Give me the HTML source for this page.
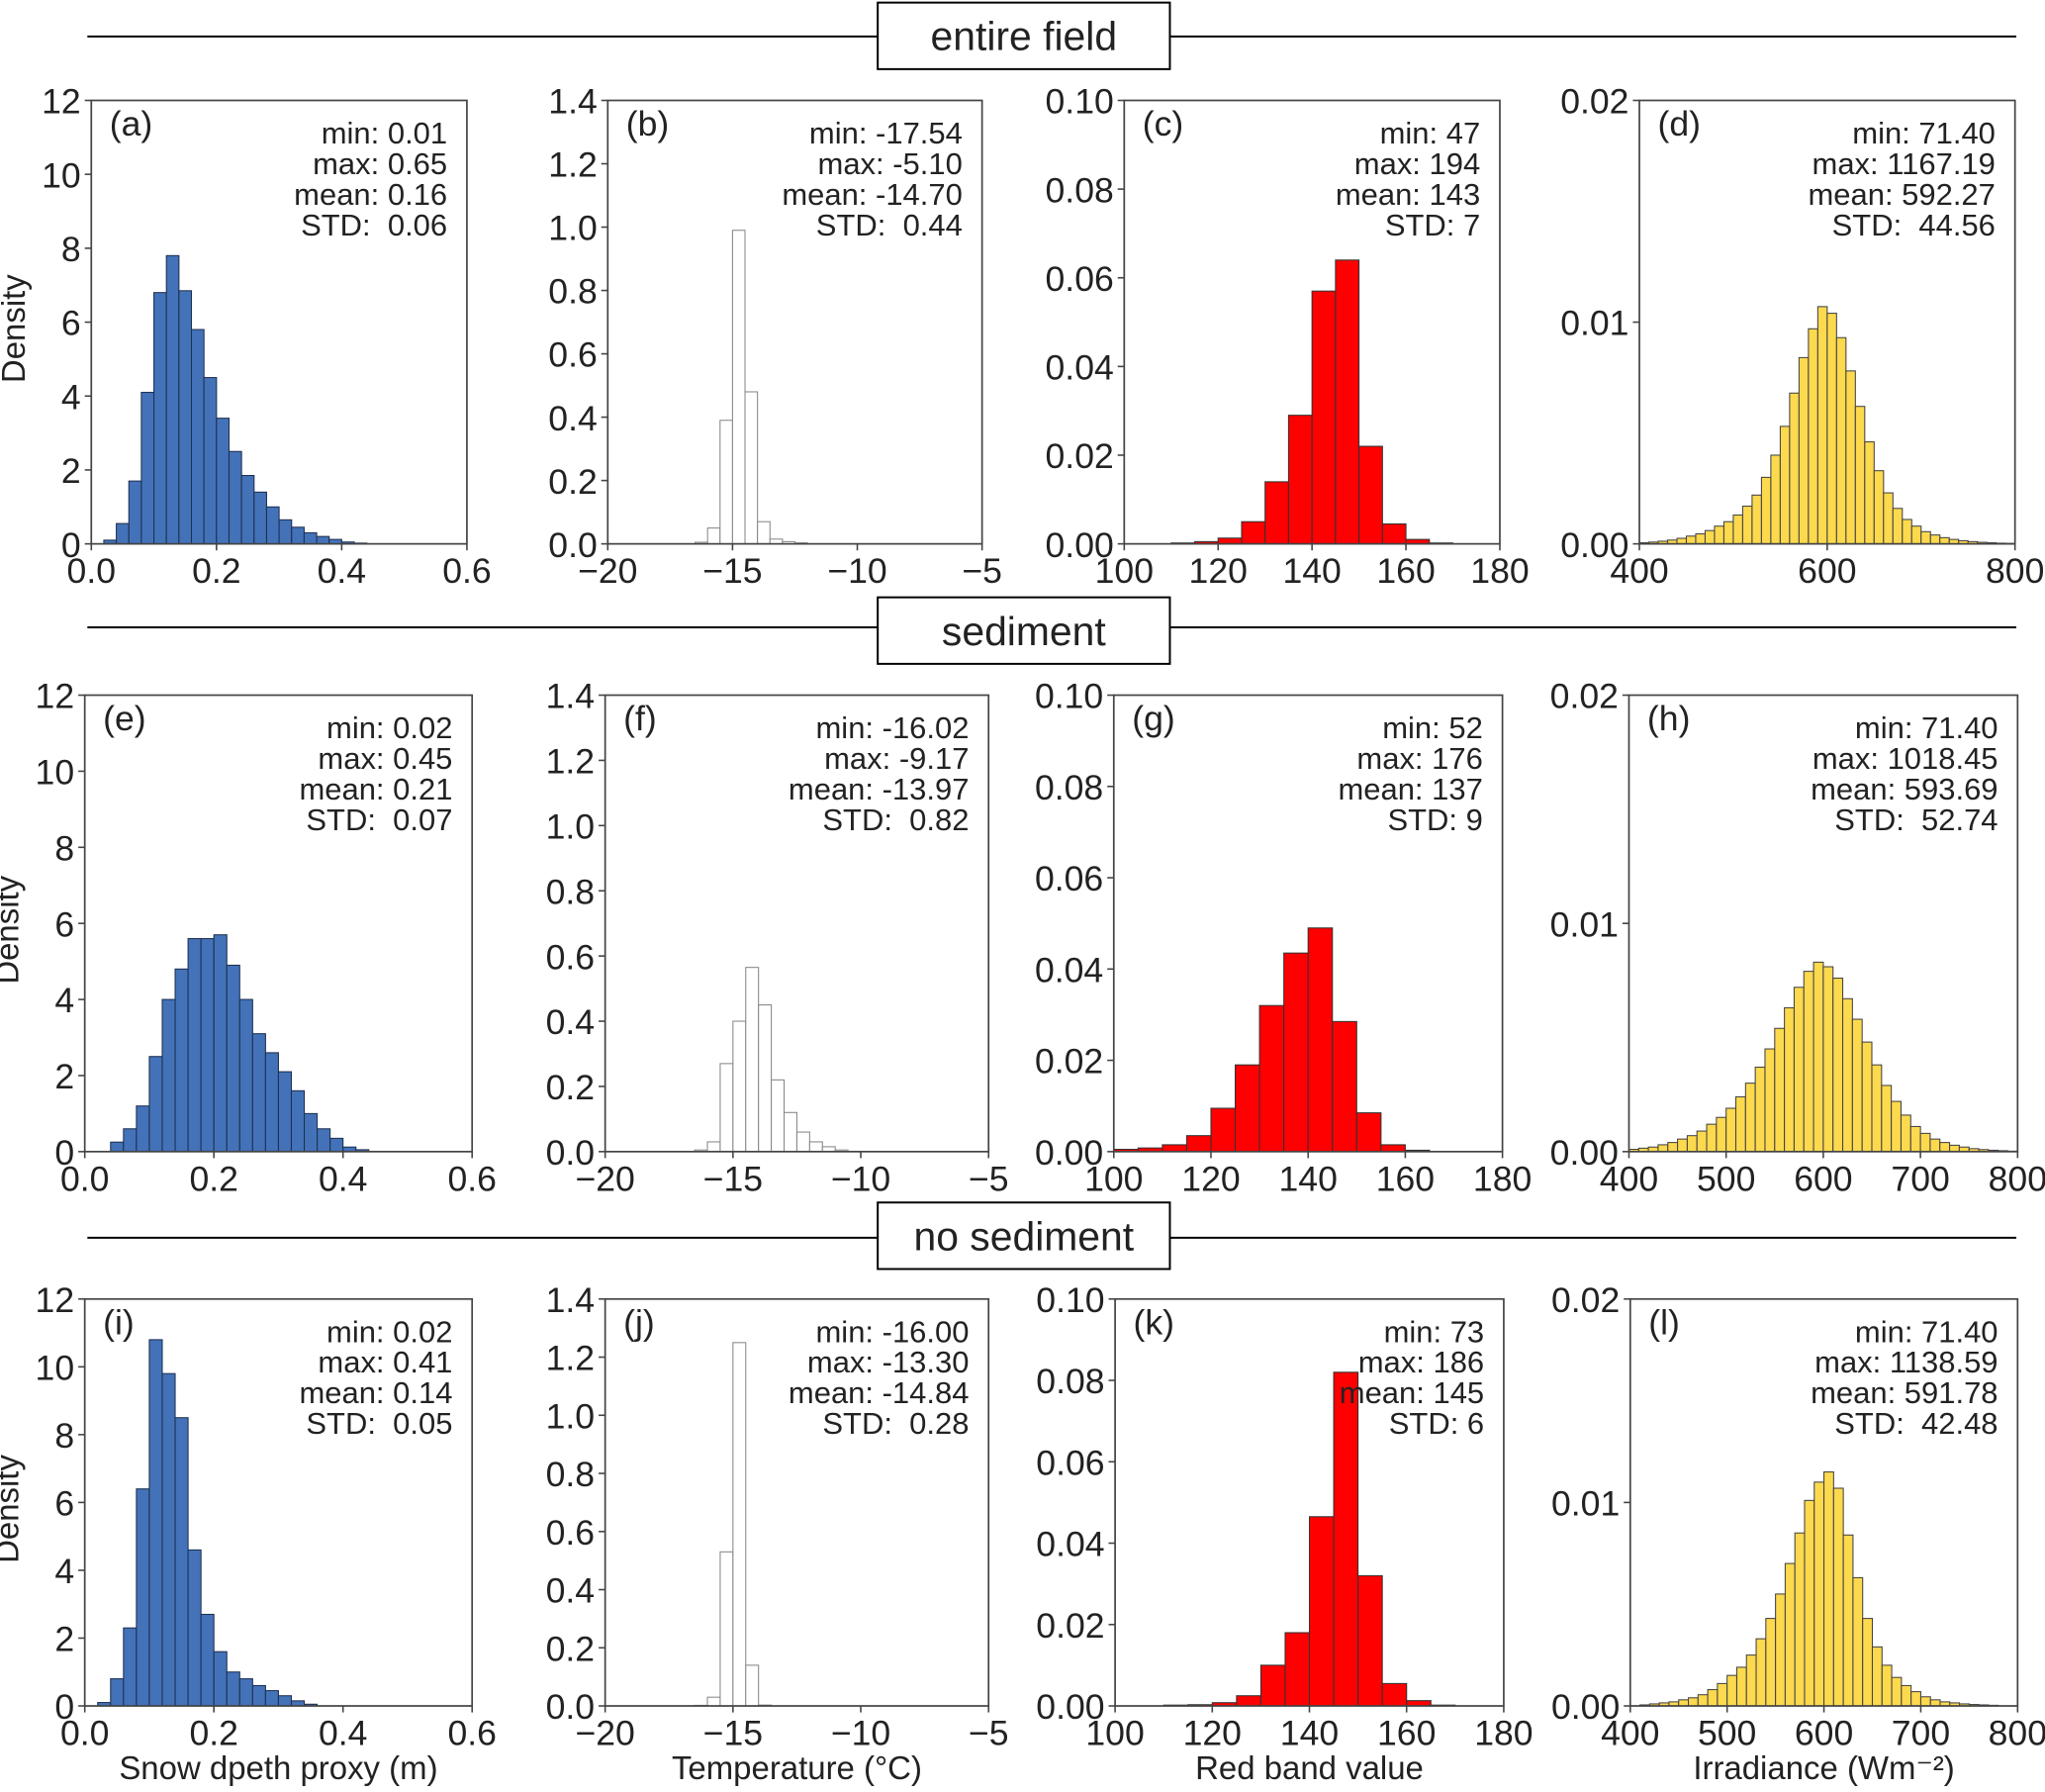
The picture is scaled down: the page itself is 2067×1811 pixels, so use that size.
<!DOCTYPE html>
<html><head><meta charset="utf-8"><style>
html,body{margin:0;padding:0;background:#fff}
svg{display:block}
text{font-family:"Liberation Sans Narrow","Liberation Sans",sans-serif;fill:#222;white-space:pre}
</style></head><body>
<svg id="fig" width="2067" height="1811" viewBox="0 0 1568 1374" preserveAspectRatio="none" xmlns="http://www.w3.org/2000/svg"></svg>
<script>
// ---- data arrays (density per bin) ----
const aVals=[0.1,0.55,1.7,4.1,6.8,7.8,6.85,5.8,4.5,3.4,2.5,1.85,1.4,1.0,0.65,0.45,0.3,0.2,0.12,0.05,0.02];
const bVals=[0.005,0.05,0.39,0.99,0.48,0.07,0.015,0.007,0.003];
const cVals=[0.0002,0.0005,0.0013,0.005,0.014,0.029,0.057,0.064,0.022,0.0045,0.001,0.0002];
const dVals=[0.05,0.08,0.12,0.17,0.25,0.35,0.45,0.6,0.8,1.0,1.3,1.7,2.2,3.0,4.0,5.3,6.8,8.4,9.7,10.7,10.4,9.3,7.8,6.2,4.6,3.3,2.3,1.6,1.1,0.8,0.55,0.4,0.28,0.2,0.14,0.1,0.07,0.05,0.03,0.02];
const eVals=[0.25,0.6,1.2,2.5,4.0,4.8,5.6,5.6,5.7,4.9,4.0,3.1,2.6,2.1,1.6,1.0,0.6,0.35,0.12,0.05];
const fVals=[0.005,0.03,0.27,0.4,0.565,0.45,0.22,0.12,0.06,0.03,0.015,0.005];
const gVals=[0.0005,0.0008,0.0015,0.0035,0.0095,0.019,0.032,0.0435,0.049,0.0285,0.0085,0.0015,0.0003];
const hVals=[0.1,0.15,0.2,0.3,0.4,0.55,0.7,0.9,1.2,1.5,1.9,2.4,3.0,3.7,4.5,5.4,6.3,7.2,7.9,8.3,8.1,7.6,6.7,5.8,4.8,3.8,2.9,2.2,1.6,1.1,0.8,0.55,0.4,0.28,0.2,0.13,0.09,0.06,0.04,0.02];
const iVals=[0.1,0.8,2.3,6.4,10.8,9.8,8.5,4.6,2.7,1.6,1.0,0.8,0.6,0.45,0.3,0.15,0.05];
const jVals=[0.002,0.03,0.53,1.25,0.14,0.003];
const kVals=[0.0002,0.0003,0.0008,0.0025,0.01,0.018,0.0465,0.082,0.032,0.0055,0.0013,0.0002];
const lVals=[0.05,0.1,0.15,0.2,0.3,0.4,0.55,0.8,1.1,1.5,1.9,2.5,3.3,4.3,5.5,7.0,8.5,10.1,11.0,11.5,10.7,8.4,6.3,4.3,2.9,2.0,1.4,1.0,0.7,0.45,0.3,0.2,0.15,0.1,0.07,0.05,0.03];
const snowTicks=[0,0.2,0.4,0.6], snowYTicks=[0,2,4,6,8,10,12];
const tempTicks=[-20,-15,-10,-5], tempYTicks=[0,0.2,0.4,0.6,0.8,1.0,1.2,1.4];
const redTicks=[100,120,140,160,180], redYTicks=[0,0.02,0.04,0.06,0.08,0.10];
const irrTicks1=[400,600,800], irrTicks=[400,500,600,700,800], irrYTicks=[0,0.01,0.02];
const headers=["entire field","sediment","no sediment"];
const xTitles=["Snow dpeth proxy (m)","Temperature (°C)","Red band value","Irradiance (Wm⁻²)"];

const NS="http://www.w3.org/2000/svg";
const svg=document.getElementById('fig');
function el(t,a,p){const e=document.createElementNS(NS,t);for(const k in a)e.setAttribute(k,a[k]);(p||svg).appendChild(e);return e;}

const rows=[{top:77,bot:417,xs:[[70,358],[466,753],[862,1150],[1257,1545]],hy:28,hb:[2,53]},
            {top:533,bot:883,xs:[[65,362],[464,758],[854,1152],[1249,1547]],hy:481,hb:[458,509]},
            {top:996,bot:1308,xs:[[65,362],[464,758],[855,1153],[1250,1547]],hy:949,hb:[922,973]}];

const panels=[
 {id:'a',vals:aVals,start:0.02,w:0.02,xr:[0,0.6],yr:[0,12],xt:snowTicks,yt:snowYTicks,fx:1,fy:0,col:'#4372b8',ec:'#1e3050',st:['min: 0.01','max: 0.65','mean: 0.16','STD:  0.06']},
 {id:'b',vals:bVals,start:-16.5,w:0.5,xr:[-20,-5],yr:[0,1.4],xt:tempTicks,yt:tempYTicks,fx:0,fy:1,col:'#ffffff',ec:'#888',st:['min: -17.54','max: -5.10','mean: -14.70','STD:  0.44']},
 {id:'c',vals:cVals,start:110,w:5,xr:[100,180],yr:[0,0.1],xt:redTicks,yt:redYTicks,fx:0,fy:2,col:'#ff0000',ec:'#333',st:['min: 47','max: 194','mean: 143','STD: 7']},
 {id:'d',vals:dVals,start:400,w:10,xr:[400,800],yr:[0,0.02],xt:irrTicks1,yt:irrYTicks,fx:0,fy:2,col:'#fdd94e',ec:'#444',sc:0.001,st:['min: 71.40','max: 1167.19','mean: 592.27','STD:  44.56']},
 {id:'e',vals:eVals,start:0.04,w:0.02,xr:[0,0.6],yr:[0,12],xt:snowTicks,yt:snowYTicks,fx:1,fy:0,col:'#4372b8',ec:'#1e3050',st:['min: 0.02','max: 0.45','mean: 0.21','STD:  0.07']},
 {id:'f',vals:fVals,start:-16.5,w:0.5,xr:[-20,-5],yr:[0,1.4],xt:tempTicks,yt:tempYTicks,fx:0,fy:1,col:'#ffffff',ec:'#888',st:['min: -16.02','max: -9.17','mean: -13.97','STD:  0.82']},
 {id:'g',vals:gVals,start:100,w:5,xr:[100,180],yr:[0,0.1],xt:redTicks,yt:redYTicks,fx:0,fy:2,col:'#ff0000',ec:'#333',st:['min: 52','max: 176','mean: 137','STD: 9']},
 {id:'h',vals:hVals,start:400,w:10,xr:[400,800],yr:[0,0.02],xt:irrTicks,yt:irrYTicks,fx:0,fy:2,col:'#fdd94e',ec:'#444',sc:0.001,st:['min: 71.40','max: 1018.45','mean: 593.69','STD:  52.74']},
 {id:'i',vals:iVals,start:0.02,w:0.02,xr:[0,0.6],yr:[0,12],xt:snowTicks,yt:snowYTicks,fx:1,fy:0,col:'#4372b8',ec:'#1e3050',st:['min: 0.02','max: 0.41','mean: 0.14','STD:  0.05']},
 {id:'j',vals:jVals,start:-16.5,w:0.5,xr:[-20,-5],yr:[0,1.4],xt:tempTicks,yt:tempYTicks,fx:0,fy:1,col:'#ffffff',ec:'#888',st:['min: -16.00','max: -13.30','mean: -14.84','STD:  0.28']},
 {id:'k',vals:kVals,start:110,w:5,xr:[100,180],yr:[0,0.1],xt:redTicks,yt:redYTicks,fx:0,fy:2,col:'#ff0000',ec:'#333',st:['min: 73','max: 186','mean: 145','STD: 6']},
 {id:'l',vals:lVals,start:410,w:10,xr:[400,800],yr:[0,0.02],xt:irrTicks,yt:irrYTicks,fx:0,fy:2,col:'#fdd94e',ec:'#444',sc:0.001,st:['min: 71.40','max: 1138.59','mean: 591.78','STD:  42.48']}
];

function fmt(v,d){const s=v.toFixed(d);return v<0?'−'+s.slice(1):s;}

rows.forEach((r,ri)=>{
  const g=el('g',{});
  
  
  el('line',{x1:67,x2:673,y1:r.hy,y2:r.hy,stroke:'#000','stroke-width':1.5},g);
  el('line',{x1:897,x2:1546,y1:r.hy,y2:r.hy,stroke:'#000','stroke-width':1.5},g);
  el('rect',{x:673,y:r.hb[0],width:224,height:r.hb[1]-r.hb[0],fill:'#fff',stroke:'#000','stroke-width':1.5},g);
  const t=el('text',{x:785,y:(r.hb[0]+r.hb[1])/2+11,'text-anchor':'middle','font-size':31,style:'font-family:"Liberation Sans",sans-serif'},g);
  t.textContent=headers[ri];
});

panels.forEach((p,pi)=>{
  const r=rows[Math.floor(pi/4)], col=pi%4, [L,R]=r.xs[col], T=r.top, B=r.bot;
  const g=el('g',{});
  
  
  const sx=v=>L+(v-p.xr[0])/(p.xr[1]-p.xr[0])*(R-L);
  const sy=v=>B-(v-p.yr[0])/(p.yr[1]-p.yr[0])*(B-T);
  const sc=p.sc||1;
  p.vals.forEach((v,k)=>{
    const x0=sx(p.start+k*p.w), x1=sx(p.start+(k+1)*p.w), y=sy(v*sc);
    const b=el('rect',{x:x0,y:y,width:x1-x0,height:B-y,fill:p.col,stroke:p.ec,'stroke-width':0.8},g);
    
    
  });
  el('rect',{x:L,y:T,width:R-L,height:B-T,fill:'none',stroke:'#444','stroke-width':1.3},g);
  p.xt.forEach(v=>{
    const x=sx(v);
    el('line',{x1:x,x2:x,y1:B,y2:B+5,stroke:'#444','stroke-width':1.2},g);
    const t=el('text',{x:x,y:B+30,'text-anchor':'middle','font-size':27},g);
    t.textContent=fmt(v,p.fx);
  });
  p.yt.forEach(v=>{
    const y=sy(v);
    el('line',{x1:L-5,x2:L,y1:y,y2:y,stroke:'#444','stroke-width':1.2},g);
    const t=el('text',{x:L-8,y:y+10,'text-anchor':'end','font-size':27},g);
    t.textContent=fmt(v,p.fy);
  });
  const lb=el('text',{x:L+14,y:T+27,'font-size':27},g);
  lb.textContent='('+p.id+')';
  p.st.forEach((s,k)=>{
    const t=el('text',{x:R-15,y:T+33+k*23.5,'text-anchor':'end','font-size':23.5},g);
    t.textContent=s;
  });
  if(col===0){
    const yl=el('text',{x:0,y:0,'font-size':25,'text-anchor':'middle',transform:`translate(${L-51},${(T+B)/2+5}) rotate(-90)`,style:'font-family:"Liberation Sans",sans-serif'},g);
    
    
    yl.textContent='Density';
  }
  if(pi>=8){
    const xl=el('text',{x:(L+R)/2,y:B+56,'text-anchor':'middle','font-size':25},g);
    
    
    xl.textContent=xTitles[col];
  }
});
</script>
</body></html>
